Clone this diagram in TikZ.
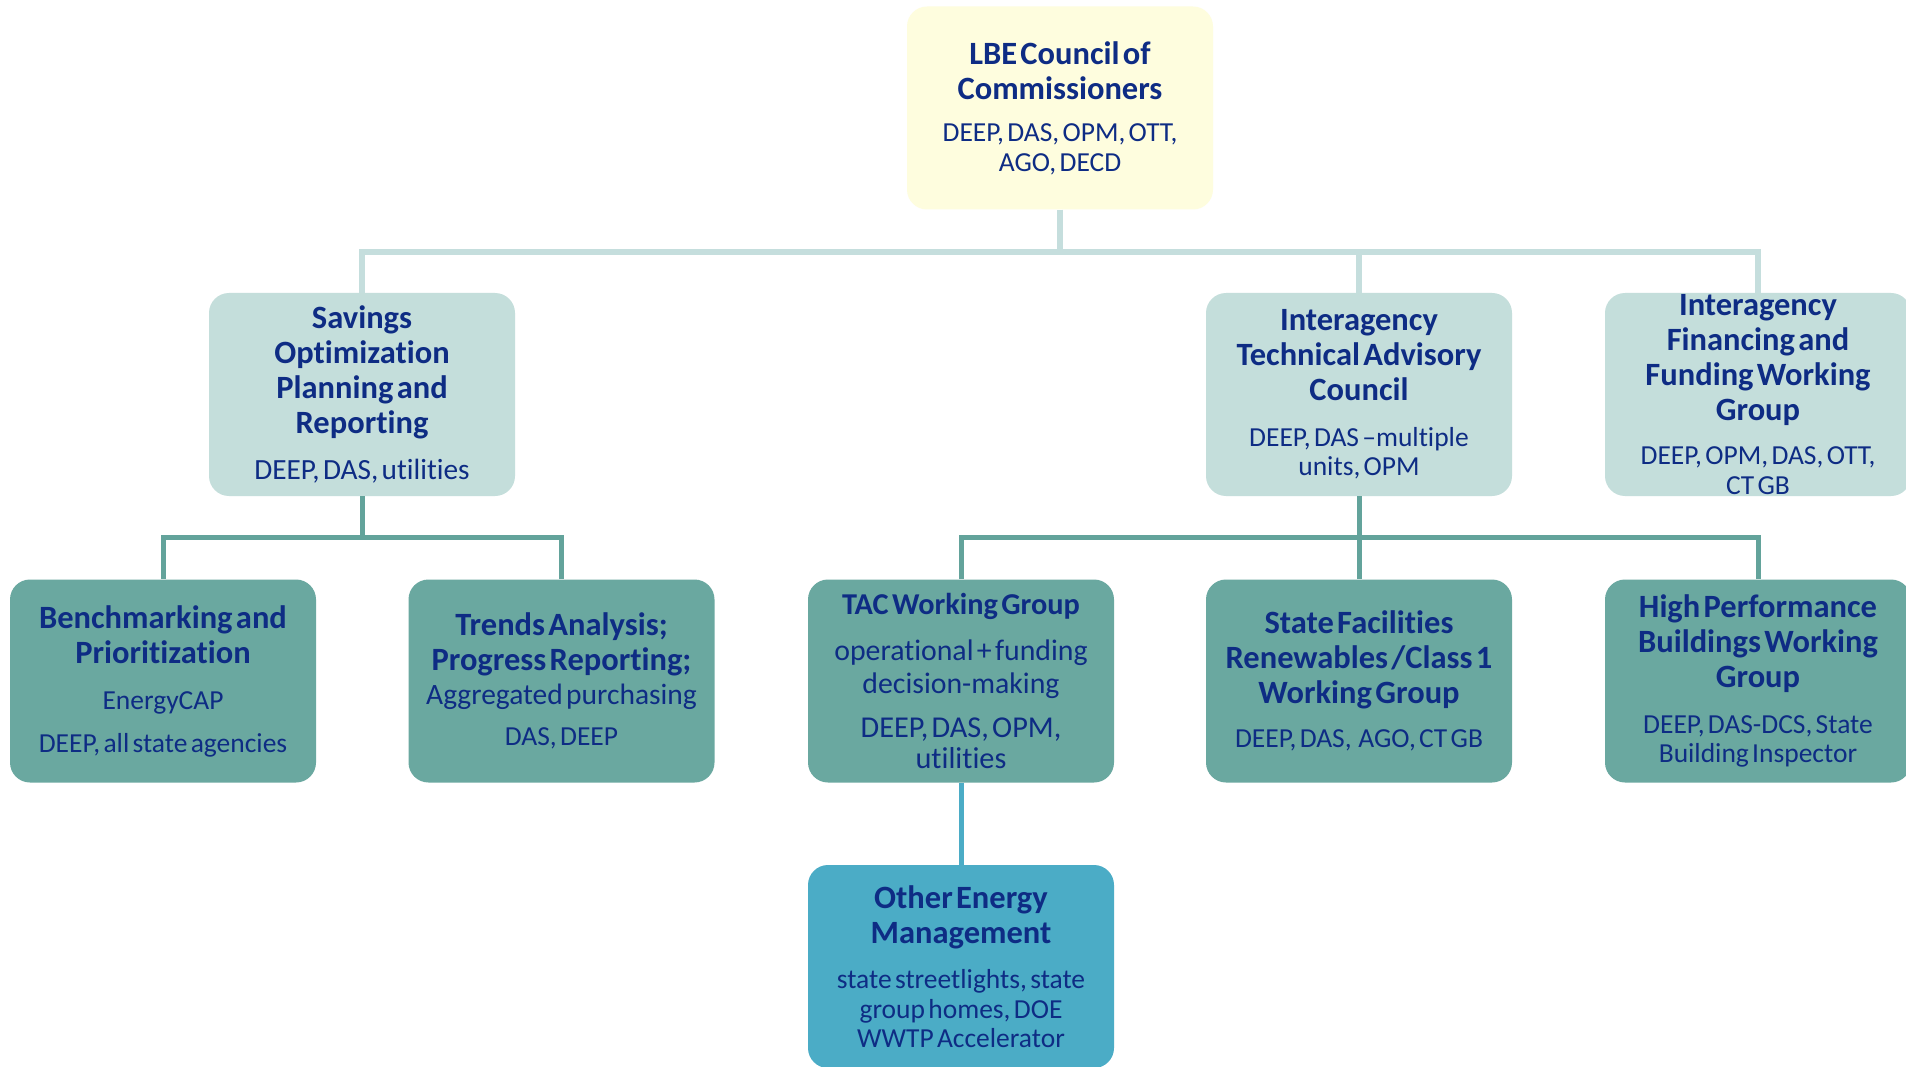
\documentclass[tikz,border=0pt]{standalone}
\usepackage{fontspec}
\setmainfont{Carlito}[Ligatures=NoCommon,WordSpace=1.25]
\definecolor{txt}{RGB}{14,44,132}
\definecolor{yel}{RGB}{254,253,222}
\definecolor{lt}{RGB}{196,222,219}
\definecolor{md}{RGB}{106,168,160}
\definecolor{bl}{RGB}{75,172,198}
\definecolor{lnlt}{RGB}{197,222,221}
\definecolor{lnmd}{RGB}{99,163,155}
\newcommand\Tf{\fontsize{32.5}{35}\selectfont\bfseries}
\newcommand\Bf{\fontsize{27.5}{29.5}\selectfont}
\tikzset{
  box/.style={rectangle, rounded corners=20pt, minimum width=306pt, minimum height=203pt, inner sep=0pt},
  yelbox/.style={box, fill=yel},
  ltbox/.style={box, fill=lt},
  mdbox/.style={box, fill=md},
  blbox/.style={box, fill=bl},
  lbl/.style={text width=300pt, align=center, inner sep=0pt, text=txt},
  conlt/.style={draw=lnlt, line width=6pt},
  conmd/.style={draw=lnmd, line width=5pt},
  conbl/.style={draw=bl, line width=5pt},
}
\begin{document}
\begin{tikzpicture}[x=1pt,y=-1pt]
\clip (0,0) rectangle (1906,1067);
\fill[white] (0,0) rectangle (1906,1067);

% boxes
\node[yelbox] (top) at (1060,108) {};
\node[ltbox] (sav) at (362,394.5) {};
\node[ltbox] (tac) at (1359,394.5) {};
\node[ltbox] (fin) at (1758,394.5) {};
\node[mdbox] (ben) at (163,681) {};
\node[mdbox] (tre) at (561.5,681) {};
\node[mdbox] (twg) at (961,681) {};
\node[mdbox] (sfr) at (1359,681) {};
\node[mdbox] (hpb) at (1758,681) {};
\node[blbox] (oem) at (961,966.5) {};

% connectors
\coordinate (b1) at (1060,252);
\coordinate (b2) at (362,537);
\coordinate (b3) at (1359,537);
\draw[conlt] (top.south) -- (b1) -| (sav.north);
\draw[conlt] (b1) -| (tac.north);
\draw[conlt] (b1) -| (fin.north);
\draw[conmd] (sav.south) -- (b2) -| (ben.north);
\draw[conmd] (b2) -| (tre.north);
\draw[conmd] (tac.south) -- (b3) -| (twg.north);
\draw[conmd] (b3) -- (sfr.north);
\draw[conmd] (b3) -| (hpb.north);
\draw[conbl] (twg.south) -- (oem.north);

% labels
\node[lbl] (top-t) at (top) {{\Tf LBE Council of\\Commissioners\par}\vspace{13pt}{\Bf DEEP, DAS, OPM, OTT,\\AGO, DECD\par}};
\node[lbl] (sav-t) at (sav) {{\Tf Savings\\Optimization\\Planning and\\Reporting\par}\vspace{15pt}{\fontsize{29.3}{31}\selectfont DEEP, DAS, utilities\par}};
\node[lbl] (tac-t) at (tac) {{\Tf Interagency\\Technical Advisory\\Council\par}\vspace{16pt}{\Bf DEEP, DAS \textendash multiple\\units, OPM\par}};
\node[lbl] (fin-t) at (fin) {{\Tf Interagency\\Financing and\\Funding Working\\Group\par}\vspace{15pt}{\Bf DEEP, OPM, DAS, OTT,\\CT GB\par}};
\node[lbl] (ben-t) at (ben) {{\Tf Benchmarking and\\Prioritization\par}\vspace{17pt}{\Bf EnergyCAP\par}\vspace{13pt}{\Bf DEEP, all state agencies\par}};
\node[lbl] (tre-t) at (tre) {{\Tf Trends Analysis;\\Progress Reporting;\par}{\fontsize{29.5}{34}\selectfont Aggregated purchasing\par}\vspace{12pt}{\Bf DAS, DEEP\par}};
\node[lbl] (twg-t) at (twg) {{\fontsize{30.3}{31}\selectfont\bfseries TAC Working Group\par}\vspace{13pt}{\fontsize{29.8}{33}\selectfont operational + funding\\decision-making\par}\vspace{12pt}{\fontsize{30.3}{31.5}\selectfont DEEP, DAS, OPM,\\utilities\par}};
\node[lbl] (sfr-t) at (sfr) {{\Tf State Facilities\\Renewables /Class 1\\Working Group\par}\vspace{15pt}{\Bf DEEP, DAS,\ \ AGO, CT GB\par}};
\node[lbl] (hpb-t) at (hpb) {{\Tf High Performance\\Buildings Working\\Group\par}\vspace{16pt}{\Bf DEEP, DAS-DCS, State\\Building Inspector\par}};
\node[lbl] (oem-t) at (oem) {{\Tf Other Energy\\Management\par}\vspace{16pt}{\Bf state streetlights, state\\group homes, DOE\\WWTP Accelerator\par}};
\end{tikzpicture}
\end{document}
